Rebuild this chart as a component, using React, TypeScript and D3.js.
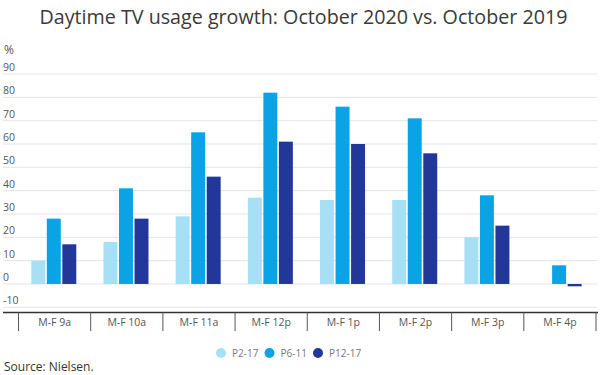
import React from "react";
import * as d3 from "d3";

const categories = ["M-F 9a", "M-F 10a", "M-F 11a", "M-F 12p", "M-F 1p", "M-F 2p", "M-F 3p", "M-F 4p"];
const seriesNames = ["P2-17", "P6-11", "P12-17"];
const p2_17 = [10, 18, 29, 37, 36, 36, 20, 0];
const p6_11 = [28, 41, 65, 82, 76, 71, 38, 8];
const p12_17 = [17, 28, 46, 61, 60, 56, 25, -1];
const yTicks = [-10, 0, 10, 20, 30, 40, 50, 60, 70, 80, 90];
const colors = ["#a7dff4", "#0aa3e6", "#22379a"];

export default function App() {
  const W = 600, H = 375;
  const font = "'Open Sans', sans-serif";
  const x = d3.scaleBand<string>().domain(categories).range([18.5, 596]);
  const xs = d3.scaleBand<string>().domain(seriesNames).range([0, 45]).paddingInner(0.1);
  const y = d3.scaleLinear().domain([-10, 90]).range([307.3, 74]);
  const series = [p2_17, p6_11, p12_17];
  const groupOffset = (x.bandwidth() - 45) / 2 - 0.8;

  return (
    <svg width={W} height={H} style={{ position: "absolute", left: 0, top: 0, background: "#fff" }} fontFamily={font}>
      <text x={303.5} y={24} textAnchor="middle" fontSize={19.7} fill="#3a3a3a">
        Daytime TV usage growth: October 2020 vs. October 2019
      </text>
      <text x={4} y={54} fontSize={12} fill="#555">%</text>
      {yTicks.map((t) => (
        <g key={t}>
          <line x1={3} x2={597} y1={y(t)} y2={y(t)} stroke="#e4e4e4" strokeWidth={1} />
          <text x={3} y={y(t) - 3} fontSize={10.5} fill="#555">{t}</text>
        </g>
      ))}
      {categories.map((c, i) => (
        <g key={c} transform={`translate(${x(c)! + groupOffset},0)`}>
          {series.map((s, j) => {
            const v = s[i];
            if (v === 0) return null;
            const y0 = y(0), y1 = y(v);
            return (
              <rect key={j} x={xs(seriesNames[j])!} width={xs.bandwidth()}
                y={Math.min(y0, y1)} height={Math.max(Math.abs(y1 - y0), 0)} fill={colors[j]} />
            );
          })}
        </g>
      ))}
      <line x1={3} x2={598} y1={312.5} y2={312.5} stroke="#333" strokeWidth={1.5} />
      {x.domain().concat(["end"]).map((c, i) => {
        const xp = i < categories.length ? x(c)! : x.range()[1];
        return <line key={c} x1={xp} x2={xp} y1={312.5} y2={331} stroke="#555" strokeWidth={1} />;
      })}
      {categories.map((c) => (
        <text key={c} x={x(c)! + x.bandwidth() / 2} y={326} textAnchor="middle" fontSize={10.5} fill="#555">{c}</text>
      ))}
      {seriesNames.map((n, j) => {
        const lx = [221, 269.5, 318][j];
        return (
          <g key={n}>
            <circle cx={lx} cy={353} r={5} fill={colors[j]} />
            <text x={lx + 11} y={357} fontSize={10} fill="#777">{n}</text>
          </g>
        );
      })}
      <text x={4} y={371} fontSize={12} fill="#333">Source: Nielsen.</text>
    </svg>
  );
}
